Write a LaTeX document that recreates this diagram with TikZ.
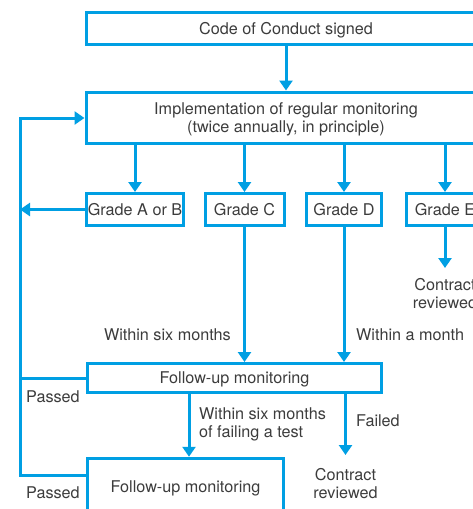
\documentclass[tikz,border=0pt]{standalone}
\usepackage{fontspec}
\setmainfont{TeX Gyre Heros}
\usetikzlibrary{arrows.meta,calc}
\definecolor{ublue}{RGB}{0,159,227}
\definecolor{tgray}{RGB}{60,60,60}
\tikzset{
  box/.style={draw=ublue, line width=3pt, inner sep=0pt, align=center, text=tgray, text depth=0pt},
  lbl/.style={text=tgray, inner sep=0pt},
  conn/.style={draw=ublue, line width=3pt},
  arr/.style={conn, -{Triangle[width=13pt,length=10pt]}},
}
\begin{document}
\begin{tikzpicture}[x=1pt,y=-1pt, font=\fontsize{16.2}{18.5}\selectfont]
\useasboundingbox (0,0) rectangle (473,509);
\clip (0,0) rectangle (473,509);
% boxes
\node[box, minimum width=400pt, minimum height=32pt] (code) at (286,28) {Code of Conduct signed};
\node[box, minimum width=400pt, minimum height=51pt] (impl) at (286,117.5) {Implementation of regular monitoring\\(twice annually, in principle)};
\node[box, minimum width=97pt, minimum height=32pt] (gAB) at (135,209.5) {Grade A or B};
\node[box, minimum width=79pt, minimum height=32pt] (gC) at (244.5,209.5) {Grade C};
\node[box, minimum width=75pt, minimum height=32pt] (gD) at (344,209.5) {Grade D};
\node[box, minimum width=78pt, minimum height=32pt] (gE) at (445,209.5) {Grade E};
\node[box, minimum width=294pt, minimum height=29pt] (fu1) at (234.5,378) {Follow-up monitoring};
\node[box, minimum width=196pt, minimum height=57.5pt] (fu2) at (185.5,487) {Follow-up monitoring};
% outcome texts
\node[lbl, align=center, anchor=north, inner ysep=10pt] (cE) at (445,268) {Contract\\reviewed};
\node[lbl, align=center, anchor=north, inner ysep=13pt] (cF) at (345.5,455) {Contract\\reviewed};
% labels
\node[lbl, anchor=base east] (l6m) at (231,340) {Within six months};
\node[lbl, anchor=base west] (l1m) at (356,340) {Within a month};
\node[lbl, anchor=base west] (p1) at (26,402) {Passed};
\node[lbl, anchor=base west] (p2) at (26,498) {Passed};
\node[lbl, anchor=north west, align=left] (lfail) at (199,407) {Within six months\\of failing a test};
\node[lbl, anchor=base west] (lf) at (356,426) {Failed};
% coordinates
\coordinate (lb) at (20,475);
\coordinate (lt) at (20,118);
\coordinate (m) at (189,0);
% connectors
\draw[arr] (code.south) -- (impl.north);
\draw[arr] (gAB.north |- impl.south) -- (gAB.north);
\draw[arr] (gC.north |- impl.south) -- (gC.north);
\draw[arr] (gD.north |- impl.south) -- (gD.north);
\draw[arr] (gE.north |- impl.south) -- (gE.north);
\draw[arr] (fu2.west |- lb) -- (lb) -- (lt) -- (impl.west |- lt);
\draw[conn] (fu1.west) -- (fu1.west -| lb);
\draw[arr] (gAB.west) -- (gAB.west -| lb);
\draw[arr] (gC.south) -- (gC.south |- fu1.north);
\draw[arr] (gD.south) -- (gD.south |- fu1.north);
\draw[arr] (gE.south) -- (cE.north);
\draw[arr] (fu1.south -| m) -- (fu2.north -| m);
\draw[arr] (fu1.south -| cF.north) -- (cF.north);
\end{tikzpicture}
\end{document}
